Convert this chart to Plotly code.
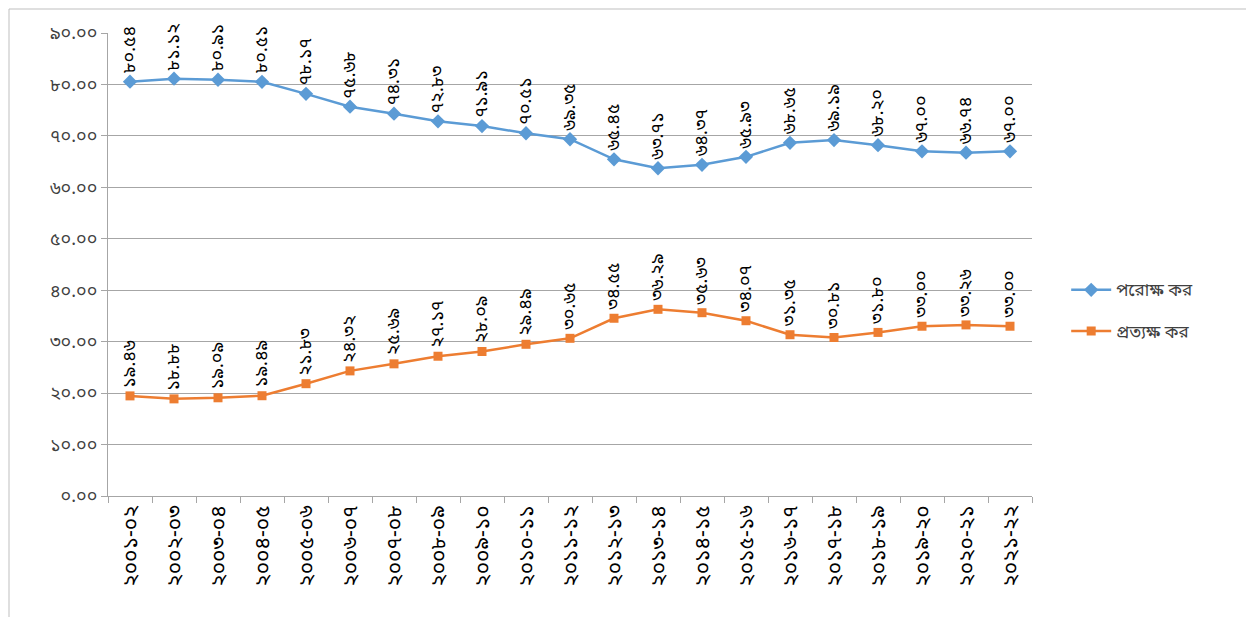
import plotly.graph_objects as go

bn = str.maketrans("0123456789", "০১২৩৪৫৬৭৮৯")

years = ["2001-02", "2002-03", "2003-04", "2004-05", "2005-06", "2006-07", "2007-08",
         "2008-09", "2009-10", "2010-11", "2011-12", "2012-13", "2013-14", "2014-15",
         "2015-16", "2016-17", "2017-18", "2018-19", "2019-20", "2020-21", "2021-22"]
indirect = [80.54, 81.12, 80.91, 80.51, 78.17, 75.68, 74.31, 72.83, 71.91, 70.51, 69.35,
            65.45, 63.71, 64.37, 65.93, 68.65, 69.19, 68.20, 67.00, 66.74, 67.00]
direct = [19.46, 18.88, 19.09, 19.49, 21.83, 24.32, 25.69, 27.17, 28.09, 29.49, 30.65,
          34.55, 36.29, 35.63, 34.07, 31.35, 30.81, 31.80, 33.00, 33.26, 33.00]
yticks = [0, 10, 20, 30, 40, 50, 60, 70, 80, 90]

cats = [y.translate(bn) for y in years]
font_fam = "Noto Sans Bengali, Lohit Bengali, Vrinda, Noto Sans, sans-serif"

W, H = 1246, 609
L, R, T, B = 100, 222, 25, 121
PW, PH = W - L - R, H - T - B

fig = go.Figure()
fig.add_trace(go.Scatter(
    x=cats, y=indirect, mode="lines+markers", name="পরোক্ষ কর",
    line=dict(color="#5B9BD5", width=2.5),
    marker=dict(symbol="diamond", size=11, color="#5B9BD5"),
    legendgroup="a"))
fig.add_trace(go.Scatter(
    x=cats, y=direct, mode="lines+markers", name="প্রত্যক্ষ কর",
    line=dict(color="#ED7D31", width=2.5),
    marker=dict(symbol="square", size=9, color="#ED7D31"),
    legendgroup="b"))

for series in (indirect, direct):
    for c, v in zip(cats, series):
        fig.add_annotation(x=c, y=v, text=f"{v:.2f}".translate(bn), textangle=-90,
                           showarrow=False, yanchor="bottom", xanchor="center", yshift=6,
                           font=dict(size=18, color="black", family=font_fam))

# chart border
fig.add_shape(type="rect", xref="paper", yref="paper",
              x0=(1 - L) / PW, x1=(W - 2 - L) / PW,
              y0=(T + PH - (H + 20)) / PH, y1=(T + PH - 1) / PH,
              line=dict(color="#BFBFBF", width=1), fillcolor="rgba(0,0,0,0)")

fig.update_layout(
    width=W, height=H,
    margin=dict(l=L, r=R, t=T, b=B),
    plot_bgcolor="white", paper_bgcolor="white",
    font=dict(family=font_fam, color="#404040", size=14),
    showlegend=True,
    legend=dict(x=1.037, y=0.40, xanchor="left", yanchor="middle", itemwidth=40,
                tracegroupgap=16, font=dict(size=17, color="#404040")),
    xaxis=dict(type="category", range=[-0.5, 20.5], tickangle=-90,
               tickson="boundaries", ticks="outside", ticklen=6, tickcolor="#A6A6A6",
               showgrid=False, showline=True, linecolor="#A6A6A6", linewidth=1,
               tickfont=dict(size=21, color="black")),
    yaxis=dict(range=[0, 90], tickvals=yticks,
               ticktext=[f"{t:.2f}".translate(bn) for t in yticks],
               ticks="outside", ticklen=6, tickcolor="#A6A6A6",
               showgrid=True, gridcolor="#A6A6A6", gridwidth=1,
               showline=True, linecolor="#A6A6A6", linewidth=1, zeroline=False,
               tickfont=dict(size=18, color="#404040")),
)

fig.write_html("out.html")
